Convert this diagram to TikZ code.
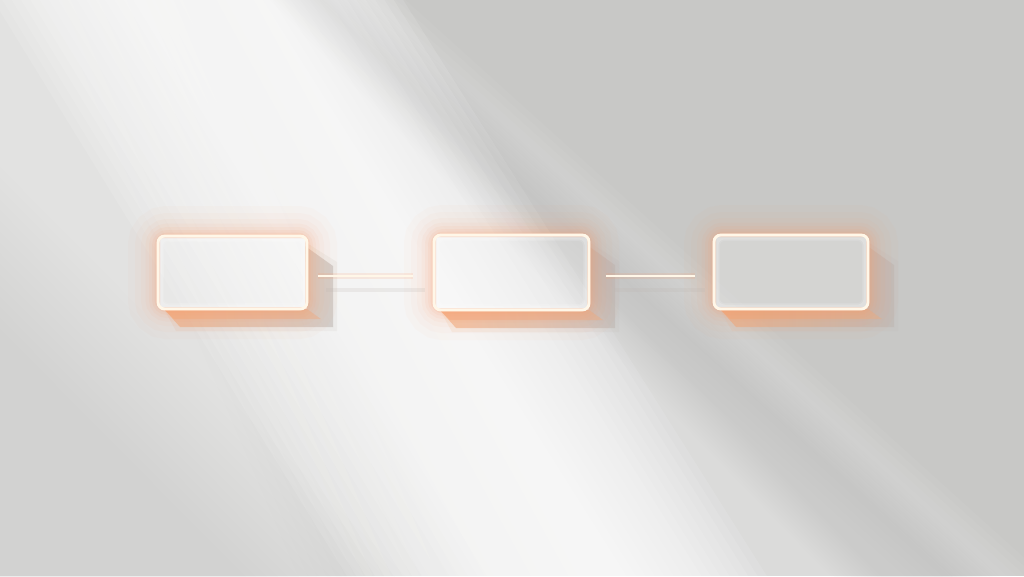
\documentclass[tikz,border=0pt]{standalone}
\usetikzlibrary{shadings}
\definecolor{bgbase}{HTML}{C8C8C6}
\definecolor{glowor}{HTML}{FF9A66}
\definecolor{rimc}{HTML}{FFF7E8}
\definecolor{shadowor}{HTML}{F6A673}
\definecolor{shadowgr}{HTML}{BDB5B0}
\tikzset{
  rim/.style={draw=rimc,line width=2.1pt,rounded corners=5pt,fill=white,fill opacity=0.22,inner sep=0pt},
  linkline/.style={draw=rimc,line width=1.6pt},
}
% soft diagonal beam: #1 top-left x, #2 top-right x, #3 bottom-left x, #4 bottom-right x, #5 layer opacity, #6 softness
\newcommand{\softbeam}[6]{%
  \foreach \k in {0,...,15}{
    \pgfmathsetmacro{\d}{-#6+2*#6*\k/15}
    \fill[white,opacity=#5] (#1+\d,-5) -- (#2-\d,-5) -- (#4-\d,581) -- (#3+\d,581) -- cycle;
  }
}
\newcommand{\darkbeam}[6]{%
  \foreach \k in {0,...,15}{
    \pgfmathsetmacro{\d}{-#6+2*#6*\k/15}
    \fill[black,opacity=#5] (#1+\d,-5) -- (#2-\d,-5) -- (#4-\d,581) -- (#3+\d,581) -- cycle;
  }
}
% glow outside a box: #1 x0, #2 y0, #3 x1, #4 y1
\newcommand{\glowrect}[4]{%
  \begin{scope}
  \clip (-10,-10) -- (1034,-10) -- (1034,586) -- (-10,586) -- cycle
        (#1+2,#2+2) -- (#1+2,#4-2) -- (#3-2,#4-2) -- (#3-2,#2+2) -- cycle;
  \foreach \w/\o in {60/0.03,46/0.035,34/0.045,25/0.055,18/0.065,12/0.08,7/0.11,4/0.17}{
    \draw[glowor,line width=\w*0.75pt,opacity=\o,rounded corners=7pt] (#1,#2) rectangle (#3,#4);
  }
  \end{scope}
  \foreach \w/\o in {8/0.12,5/0.18}{
    \draw[white,line width=\w*0.75pt,opacity=\o,rounded corners=6pt] (#1+2,#2+2) rectangle (#3-2,#4-2);
  }
}
\newcommand{\shadowshape}[4]{%
  \foreach \s/\o in {4/0.12,0/0.55}{
  \shade[left color=shadowor,right color=shadowgr,opacity=\o]
    (#3-2,#2+10-\s) -- (#3+26+\s,#2+30-\s) -- (#3+26+\s,#4+18+\s) -- (#1+22-\s,#4+18+\s) -- (#1+6,#4) -- (#3,#4) -- cycle;
  }
  \fill[shadowor,opacity=0.35] (#1+6,#4) -- (#3,#4) -- (#3+14,#4+10) -- (#1+16,#4+10) -- cycle;
}
\begin{document}
\begin{tikzpicture}[x=0.75pt,y=-0.75pt]
\useasboundingbox (0,0) rectangle (1024,576);
\begin{scope}
\clip (0,0) rectangle (1024,576);
\fill[bgbase] (0,0) rectangle (1024,576);
% broad medium light region (right of main beam)
\softbeam{200}{330}{520}{980}{0.04}{70}
% left light region
\softbeam{-320}{120}{-80}{370}{0.055}{70}
% main bright beam
\softbeam{60}{330}{420}{700}{0.11}{70}
% inner highlight
\softbeam{130}{300}{470}{640}{0.05}{45}
% darker streak at the right of the main beam top
\darkbeam{290}{340}{860}{980}{0.004}{25}
% dim bottom-left
\darkbeam{-700}{-250}{-100}{330}{0.005}{80}
\end{scope}
% shadows
\shadowshape{158}{236}{307}{309}
\shadowshape{434}{235}{589}{310}
\shadowshape{714}{235}{868}{309}
% glows
\glowrect{158}{236}{307}{309}
\glowrect{434}{235}{589}{310}
\glowrect{714}{235}{868}{309}
% boxes
\node[rim,minimum width=111.75pt,minimum height=54.75pt] (b1) at (232.5,272.5) {};
\node[rim,minimum width=116.25pt,minimum height=56.25pt] (b2) at (511.5,272.5) {};
\node[rim,minimum width=115.5pt,minimum height=55.5pt] (b3) at (791,272) {};
% connectors
\coordinate (c1a) at (318,276);
\coordinate (c1b) at (413,276);
\coordinate (c2a) at (606,276);
\coordinate (c2b) at (695,276);
\coordinate (s1a) at (326,290);
\coordinate (s1b) at (425,290);
\coordinate (s2a) at (614,290);
\coordinate (s2b) at (705,290);
\draw[shadowgr,opacity=0.2,line width=3pt] (s1a) -- (s1b);
\draw[shadowgr,opacity=0.2,line width=3pt] (s2a) -- (s2b);
\draw[glowor,opacity=0.15,line width=5pt] (c1a) -- (c1b);
\draw[glowor,opacity=0.15,line width=5pt] (c2a) -- (c2b);
\draw[linkline] (c1a) -- (c1b);
\draw[linkline] (c2a) -- (c2b);
\end{tikzpicture}
\end{document}
